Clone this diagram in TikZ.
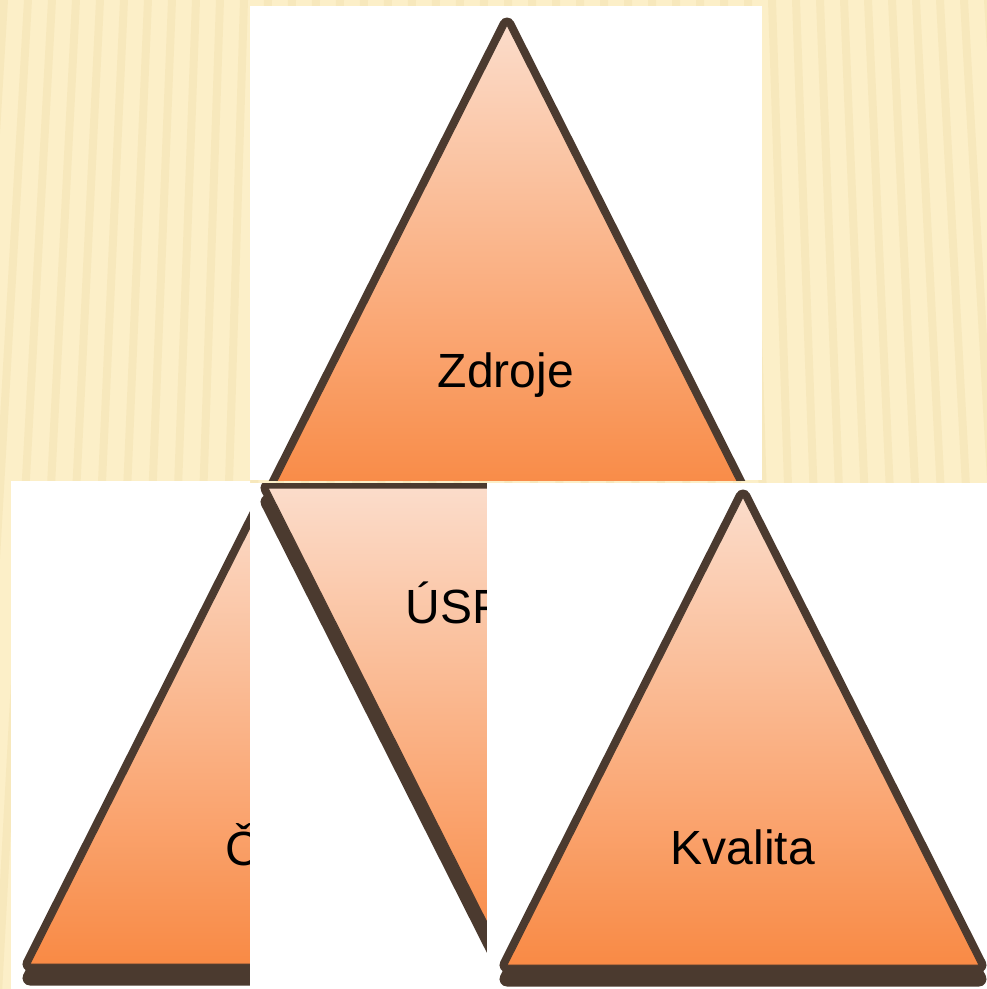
\documentclass[tikz,border=0pt]{standalone}
\usepackage{fontspec}
\setmainfont{Liberation Sans}
\definecolor{paper}{HTML}{FCEFC8}
\definecolor{stripe}{HTML}{E8D294}
\definecolor{bevel}{HTML}{4B3A2F}
\definecolor{peachtop}{HTML}{FBDCCA}
\definecolor{peachbot}{HTML}{F98A45}
\begin{document}
\begin{tikzpicture}[x=1pt,y=-1pt,
  card/.style={fill=white},
  bevel/.style={draw=bevel,fill=bevel,line width=15pt,line join=round},
  peach/.style={top color=peachtop,bottom color=peachbot,draw=bevel,line width=1pt,line join=round},
  word/.style={font=\fontsize{48}{52}\selectfont,anchor=base,inner sep=0pt}]

\useasboundingbox (0,0) rectangle (987,989);

% striped paper
\fill[paper] (0,0) rectangle (987,989);
\foreach \x in {-20,4,...,1010}
  \draw[stripe,line width=8pt,opacity=0.22] (\x,0) -- ({500+(\x-500)*1.12},989);

% top: Zdroje
\begin{scope}
\clip (250,6) rectangle (762,480);
\fill[card] (250,6) rectangle (762,480);
\path[bevel] (507,39) -- (271,507) -- (743,507) -- cycle;
\path[bevel] (507,25) -- (271,493) -- (743,493) -- cycle;
\path[peach] (507,25) -- (271,493) -- (743,493) -- cycle;
\node[word] (zdroje) at (506,387) {Zdroje};
\end{scope}

% bottom left
\begin{scope}
\clip (11,481) rectangle (250,989);
\fill[card] (11,481) rectangle (250,989);
\path[bevel] (266,510) -- (30,978) -- (502,978) -- cycle;
\path[bevel] (266,496) -- (30,964) -- (502,964) -- cycle;
\path[peach] (266,496) -- (30,964) -- (502,964) -- cycle;
\node[word] (cas) at (268,865) {Čas};
\end{scope}

% bottom middle, upside down
\begin{scope}
\clip (250,483) rectangle (487,989);
\fill[card] (250,483) rectangle (487,989);
\path[bevel] (268,502) -- (740,502) -- (504,970) -- cycle;
\path[bevel] (268,488) -- (740,488) -- (504,956) -- cycle;
\path[peach] (268,488) -- (740,488) -- (504,956) -- cycle;
\node[word] (uspech) at (506,623) {ÚSPĚCH};
\end{scope}

% bottom right
\begin{scope}
\clip (487,483) rectangle (987,989);
\fill[card] (487,483) rectangle (987,989);
\path[bevel] (743,511) -- (507,979) -- (979,979) -- cycle;
\path[bevel] (743,497) -- (507,965) -- (979,965) -- cycle;
\path[peach] (743,497) -- (507,965) -- (979,965) -- cycle;
\node[word] (kvalita) at (743,864) {Kvalita};
\end{scope}

\end{tikzpicture}
\end{document}
